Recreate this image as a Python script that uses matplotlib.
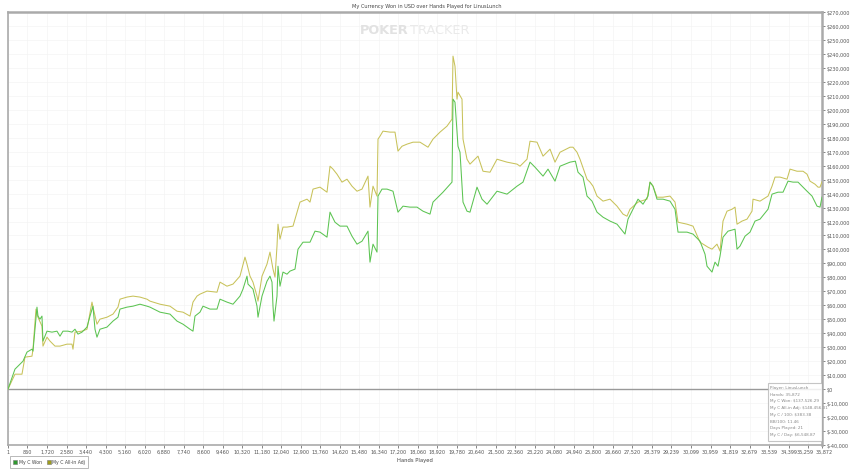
import numpy as np
import matplotlib
matplotlib.use('Agg')
from matplotlib import pyplot as plt
from matplotlib.ticker import FuncFormatter
from matplotlib.lines import Line2D
from matplotlib.patches import Rectangle
from matplotlib.transforms import ScaledTranslation

# hands played and cumulative winnings (thousands of USD)
won_hands = [1, 308, 529, 661, 837, 1058, 1102, 1190, 1278, 1322, 1410, 1498, 1542, 1719, 1939,
             2159, 2292, 2424, 2644, 2820, 2953, 3085, 3261, 3482, 3614, 3746, 3834, 3922, 4054,
             4363, 4627, 4848, 4936, 5244, 5509, 5817, 6126, 6258, 6699, 7139, 7448, 7712, 8021,
             8153, 8241, 8461, 8594, 8902, 9211, 9343, 9651, 9916, 10224, 10356, 10533, 10577,
             10797, 10974, 11018, 11194, 11414, 11546, 11635, 11679, 11723, 11855, 11899, 11987,
             12119, 12296, 12428, 12648, 12781, 13001, 13310, 13530, 13750, 14059, 14191, 14411,
             14631, 14940, 15160, 15380, 15601, 15865, 15953, 16086, 16262, 16306, 16482, 16703,
             16967, 17187, 17408, 17716, 18025, 18289, 18598, 18730, 19170, 19567, 19611, 19699,
             19831, 19920, 20052, 20228, 20360, 20669, 20889, 21110, 21550, 21991, 22432, 22696,
             23005, 23225, 23578, 23798, 24106, 24327, 24767, 25004, 25120, 25340, 25517, 25737,
             25957, 26222, 26530, 26839, 27191, 27323, 27544, 27764, 27984, 28205, 28293, 28425,
             28601, 28866, 29174, 29395, 29527, 29923, 30188, 30496, 30717, 30805, 31025, 31157,
             31289, 31378, 31510, 31730, 32039, 32127, 32259, 32480, 32700, 32920, 33141, 33494,
             33670, 33934, 34155, 34375, 34595, 34816, 34992, 35212, 35433, 35653, 35785, 35872]
won_k = [0, 14.3, 17.9, 20.0, 26.5, 28.6, 27.2, 42.9, 58.7, 52.3, 50.1, 52.3, 34.4, 41.5, 40.8,
         41.5, 37.9, 41.5, 41.5, 40.8, 42.9, 39.4, 40.8, 44.4, 52.3, 59.4, 42.9, 37.2, 42.9,
         44.4, 48.7, 51.5, 57.3, 58.7, 59.4, 60.8, 59.4, 58.7, 55.1, 53.7, 48.7, 46.5, 42.9,
         41.5, 52.3, 55.1, 59.4, 57.3, 57.3, 64.4, 62.3, 60.8, 66.6, 71.6, 80.9, 75.2,
         71.6, 59.4, 51.5, 66.6, 77.3, 80.9, 76.6, 59.4, 48.7, 66.6, 88.0, 73.7,
         83.8, 82.3, 84.5, 85.9, 100.2, 105.2, 105.2, 113.1, 112.4, 108.8, 126.7, 119.5,
         116.7, 116.7, 109.5, 103.8, 105.9, 113.1, 90.9, 103.8, 98.1, 138.2, 143.2, 143.2,
         141.7, 126.7, 131.0, 130.3, 130.3, 127.4, 125.3, 133.9, 141.0, 148.2, 207.6, 205.4,
         173.9, 169.6, 133.9, 127.4, 126.7, 144.6, 136.0, 132.4, 141.7, 139.6, 145.3, 148.2,
         162.5, 158.9, 152.5, 157.5, 148.9, 159.6, 162.5, 163.2, 155.3, 151.8, 138.2, 134.6,
         126.7, 123.1, 120.3, 118.1, 111.0, 121.7, 128.8, 136.0, 132.4, 138.2, 148.2, 145.3,
         136.0, 136.0, 134.6, 128.8, 112.4, 112.4, 111.0, 105.9, 96.6, 88.0, 83.8, 90.9,
         88.0, 95.2, 108.8, 113.1, 114.5, 100.2, 102.4, 109.5, 112.4, 120.3, 121.7, 128.8,
         139.6, 141.0, 141.0, 148.9, 148.2, 148.2, 145.3, 141.7, 138.2, 131.0, 130.3, 137.5]

adj_hands = [1, 308, 617, 749, 1058, 1102, 1234, 1322, 1498, 1542, 1719, 1851, 2071, 2292, 2600,
             2820, 2865, 2953, 3261, 3482, 3702, 3746, 3922, 4054, 4363, 4627, 4848, 4936, 5244,
             5509, 5817, 6126, 6258, 6699, 7139, 7448, 7712, 8021, 8153, 8329, 8461, 8770, 9211,
             9343, 9651, 9916, 10224, 10444, 10533, 10665, 10797, 10974, 11018, 11194, 11414,
             11546, 11679, 11767, 11855, 11899, 11987, 12119, 12296, 12560, 12737, 12869, 13178,
             13310, 13442, 13750, 14059, 14191, 14323, 14499, 14719, 14940, 15160, 15380, 15601,
             15865, 15953, 16086, 16262, 16306, 16394, 16526, 16835, 17055, 17187, 17364, 17584,
             17849, 18157, 18509, 18730, 19038, 19347, 19567, 19611, 19699, 19787, 19831, 20008,
             20052, 20228, 20360, 20713, 20933, 21242, 21550, 21991, 22432, 22564, 22873, 23005,
             23314, 23578, 23887, 24106, 24327, 24767, 24900, 25076, 25208, 25517, 25649, 25781,
             25957, 26222, 26530, 26839, 27103, 27279, 27411, 27764, 28161, 28293, 28425, 28601,
             28866, 29174, 29395, 29527, 29923, 30188, 30496, 30849, 31025, 31245, 31378, 31510,
             31686, 31907, 32039, 32127, 32347, 32568, 32788, 32832, 33141, 33494, 33670, 33802,
             34023, 34331, 34463, 34772, 35036, 35212, 35344, 35565, 35697, 35785, 35872]
adj_k = [0, 10.7, 10.7, 22.9, 23.6, 28.6, 57.3, 51.5, 45.1, 30.8, 37.2, 34.4, 30.8, 30.8, 32.2,
         32.2, 28.6, 40.8, 41.5, 42.9, 62.3, 58.7, 46.5, 50.1, 51.5, 53.7, 58.7, 64.4, 65.9,
         66.6, 65.9, 64.4, 63.0, 60.8, 59.4, 55.8, 55.1, 52.3, 62.3, 66.6, 68.0, 70.2, 69.4,
         76.6, 73.7, 75.2, 80.9, 94.5, 89.5, 80.9, 76.6, 66.6, 63.0, 80.9, 89.5,
         98.1, 85.9, 80.2, 102.4, 118.1, 107.4, 116.0, 116.0, 116.7, 126.7, 133.9, 136.0,
         133.9, 143.2, 144.6, 141.0, 159.6, 157.5, 153.9, 148.2, 150.3, 145.3, 141.7, 143.2,
         152.5, 130.3, 145.3, 138.2, 179.0, 181.1, 184.7, 184.0, 184.0, 170.4, 173.9, 175.4,
         176.8, 176.8, 173.2, 179.0, 184.0, 188.3, 193.3, 238.4, 231.2, 207.6, 212.6, 207.6,
         179.0, 164.6, 161.1, 166.8, 156.0, 155.3, 164.6, 162.5, 161.1, 159.6, 164.6, 177.5,
         176.8, 166.8, 171.8, 162.5, 169.6, 173.2, 173.2, 169.6, 164.6, 150.3, 148.2, 145.3,
         138.2, 134.6, 136.0, 131.0, 125.3, 123.8, 128.8, 133.9, 136.0, 148.2, 145.3, 137.4,
         137.4, 138.2, 133.9, 119.5, 118.1, 116.7, 105.2, 101.6, 100.2, 103.8, 98.8, 120.3,
         127.4, 128.8, 130.3, 118.1, 120.3, 121.7, 127.4, 136.0, 134.6, 138.2, 145.3, 151.8,
         151.8, 150.3, 157.5, 156.0, 156.0, 153.9, 148.9, 146.7, 144.6, 144.6, 148.5]

x_tick_labels = ['1', '860', '1,720', '2,580', '3,440', '4,300', '5,160', '6,020', '6,880',
                 '7,740', '8,600', '9,460', '10,320', '11,180', '12,040', '12,900', '13,760',
                 '14,620', '15,480', '16,340', '17,200', '18,060', '18,920', '19,780', '20,640',
                 '21,500', '22,360', '23,220', '24,080', '24,940', '25,800', '26,660', '27,520',
                 '28,379', '29,239', '30,099', '30,959', '31,819', '32,679', '33,539', '34,399',
                 '35,259', '35,872']

series_labels = ['My C Won', 'My C All-in Adj']

info_lines = ['Player: LinusLunch', 'Hands: 35,872', 'My C Won: $137,526.29',
              'My C All-in Adj: $148,456.31', 'My C / 100: $383.38', 'BB/100: 11.46',
              'Days Played: 21', 'My C / Day: $6,548.87']

green = '#5cc452'
olive = '#c8c25a'
grey = '#aaaaaa'

fig = plt.figure(figsize=(8.54, 4.77), dpi=100)
ax = fig.add_axes([8/854, 31/477, 814/854, 433/477])

ax.plot(adj_hands, np.array(adj_k)*1000, color=olive, linewidth=0.75, zorder=3)
ax.plot(won_hands, np.array(won_k)*1000, color=green, linewidth=0.75, zorder=4)
ax.axhline(0, color='#999999', linewidth=1.0, zorder=2)

ax.set_xlim(1, 35872)
ax.set_ylim(-40000, 270000)

tick_pos = [int(s.replace(',', '')) for s in x_tick_labels]
ax.set_xticks(tick_pos)
ax.set_xticklabels(x_tick_labels)
ax.set_yticks(np.arange(-40000, 270001, 10000))
ax.yaxis.set_major_formatter(FuncFormatter(lambda v, p: '$' + format(int(v), ',')))
ax.yaxis.tick_right()
ax.tick_params(axis='both', labelsize=3.5, colors='#555555', length=2, width=0.5, pad=1)
ax.grid(True, color='#f4f4f4', linewidth=0.5, zorder=0)
for s in ax.spines.values():
    s.set_color(grey)
    s.set_linewidth(1.2)
ax.spines['right'].set_linewidth(1.8)
ax.spines['top'].set_linewidth(1.8)

# last two tick labels sit very close together, nudge them apart a little
xlabels = ax.get_xticklabels()
xlabels[-2].set_transform(xlabels[-2].get_transform() + ScaledTranslation(-2.5/100, 0, fig.dpi_scale_trans))
xlabels[-1].set_transform(xlabels[-1].get_transform() + ScaledTranslation(2.5/100, 0, fig.dpi_scale_trans))

ax.set_xlabel('Hands Played', fontsize=3.8, color='#444444', labelpad=2)
fig.text(0.5, 0.987, 'My Currency Won in USD over Hands Played for LinusLunch',
         ha='center', va='center', fontsize=3.6, color='#444444')

# watermark
fig.text(0.478, 0.937, 'POKER', ha='right', va='center', fontsize=9.3,
         fontweight='bold', color='#e2e2e2')
fig.text(0.480, 0.937, 'TRACKER', ha='left', va='center', fontsize=9.3, color='#eaeaea')

# info box
bx0 = (768 - 8) / 814
by0 = (446 - 442) / 433
by1 = (446 - 384) / 433
ax.add_patch(Rectangle((bx0, by0), 1 - bx0, by1 - by0, transform=ax.transAxes,
                       facecolor='white', alpha=0.85, edgecolor='#bbbbbb',
                       linewidth=0.8, zorder=5))
for i, line in enumerate(info_lines):
    ypx = 388 + i * 6.75
    ax.text((770 - 8) / 814, (446 - ypx) / 433, line, transform=ax.transAxes,
            fontsize=2.95, color='#888888', va='center', ha='left', zorder=6)

handles = [Line2D([], [], linestyle='none', marker='s', markersize=3,
                  markerfacecolor='#2f9a2f', markeredgecolor='#777777', markeredgewidth=0.4),
           Line2D([], [], linestyle='none', marker='s', markersize=3,
                  markerfacecolor='#9e9c1c', markeredgecolor='#777777', markeredgewidth=0.4)]
leg = fig.legend(handles, series_labels, loc='lower left', bbox_to_anchor=(0.0094, 0.013),
                 ncol=2, fontsize=3.3, frameon=True, fancybox=False, handlelength=0.8,
                 handletextpad=0.3, columnspacing=1.2, borderpad=0.7)
leg.get_frame().set_edgecolor('#999999')
leg.get_frame().set_linewidth(0.6)
for t in leg.get_texts():
    t.set_color('#444444')

fig.savefig('out.png', dpi=100)
